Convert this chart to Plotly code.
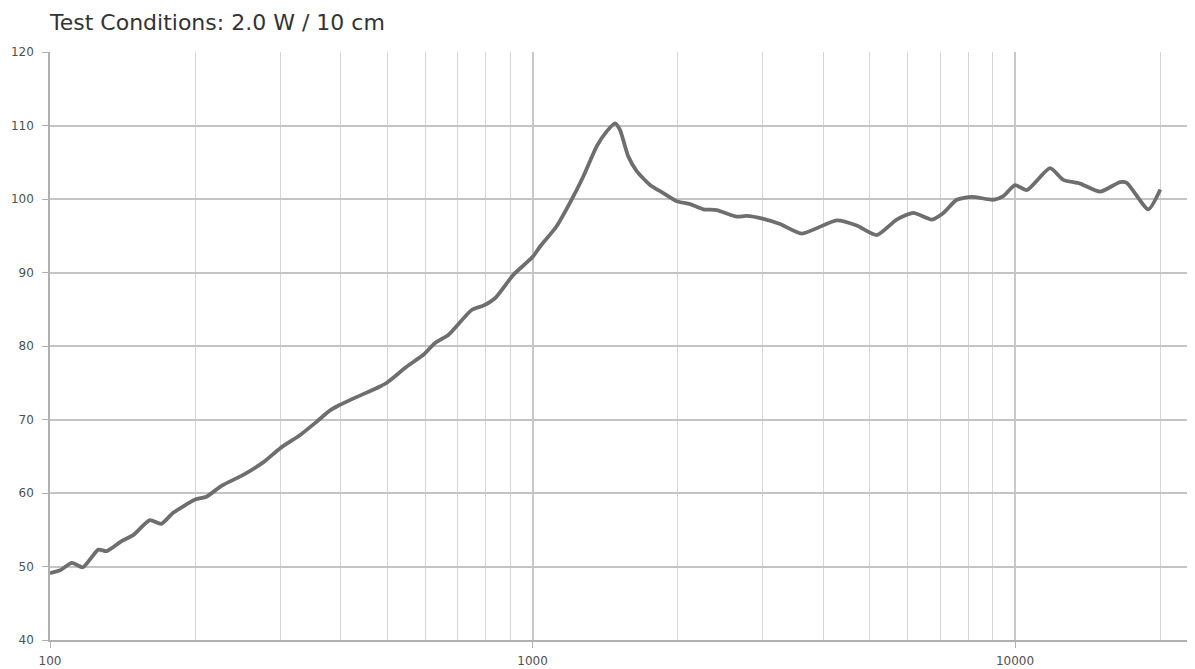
import plotly.graph_objects as go

freq = [100, 105, 111, 117, 126, 131, 141, 149, 161, 170, 180, 200, 211, 227, 252, 277, 300,
        330, 357, 380, 399, 483, 499, 549, 594, 628, 669, 748, 791, 836, 913, 1000, 1036, 1122,
        1196, 1275, 1359, 1425, 1483, 1518, 1579, 1644, 1752, 1867, 1990, 2121, 2259, 2408, 2650,
        2780, 3009, 3258, 3614, 4271, 4698, 5169, 5685, 6156, 6722, 7105, 7572, 8134, 9018, 9458,
        10000, 10576, 11817, 12592, 13637, 15003, 16505, 17043, 18891, 20000]
spl = [49.1, 49.5, 50.5, 49.9, 52.3, 52.1, 53.5, 54.3, 56.3, 55.8, 57.3, 59.1, 59.5, 61.0, 62.5,
       64.2, 66.1, 67.9, 69.7, 71.2, 72.0, 74.5, 75.0, 77.2, 78.8, 80.4, 81.5, 84.9, 85.5, 86.5,
       89.7, 92.1, 93.5, 96.3, 99.5, 103.1, 107.2, 109.2, 110.3, 109.4, 105.8, 103.8, 101.9,
       100.8, 99.7, 99.3, 98.6, 98.5, 97.6, 97.7, 97.3, 96.6, 95.3, 97.1, 96.4, 95.1, 97.2, 98.1,
       97.2, 98.1, 99.9, 100.3, 99.9, 100.4, 101.9, 101.2, 104.2, 102.6, 102.1, 101.0, 102.3,
       102.2, 98.6, 101.3]

major_ticks = [100, 1000, 10000]
minor_ticks = [200, 300, 400, 500, 600, 700, 800, 900,
               2000, 3000, 4000, 5000, 6000, 7000, 8000, 9000, 20000]
y_ticks = [40, 50, 60, 70, 80, 90, 100, 110, 120]

fig = go.Figure()
fig.add_trace(go.Scatter(
    x=freq, y=spl, mode="lines",
    line=dict(color="#6e6e6e", width=3.8, shape="spline", smoothing=0.6),
    hoverinfo="skip", showlegend=False,
))

fig.update_layout(
    width=1187, height=661,
    margin=dict(l=42, r=0, t=44, b=29),
    paper_bgcolor="white", plot_bgcolor="white",
    font=dict(family="DejaVu Sans", size=12, color="#505050"),
    xaxis=dict(
        type="log", range=[2, 4.373],
        tickvals=major_ticks, ticktext=[str(v) for v in major_ticks],
        showgrid=True, gridcolor="#c8c8c8", gridwidth=1.5,
        ticks="outside", ticklen=6, tickcolor="#b0b0b0",
        ticklabelstandoff=3,
        showline=True, linecolor="#b0b0b0", linewidth=1.5,
        minor=dict(tickvals=minor_ticks, showgrid=True, gridcolor="#d6d6d6", gridwidth=1.2,
                   ticks=""),
        zeroline=False, fixedrange=True,
        tickfont=dict(size=12, color="#505050"),
    ),
    yaxis=dict(
        range=[40, 120], tickvals=y_ticks,
        showgrid=True, gridcolor="#c4c4c4", gridwidth=1.5,
        ticks="outside", ticklen=6, tickcolor="#b0b0b0",
        ticklabelstandoff=6,
        showline=True, linecolor="#b0b0b0", linewidth=1.5,
        zeroline=False, fixedrange=True,
        tickfont=dict(size=12, color="#505050"),
    ),
    annotations=[dict(
        text="Test Conditions: 2.0 W / 10 cm",
        xref="paper", yref="paper", x=-3 / 1145, y=1 + 30 / 588,
        xanchor="left", yanchor="middle", showarrow=False,
        font=dict(family="DejaVu Sans", size=22, color="#333333"),
    )],
)

fig.write_html("out.html")
